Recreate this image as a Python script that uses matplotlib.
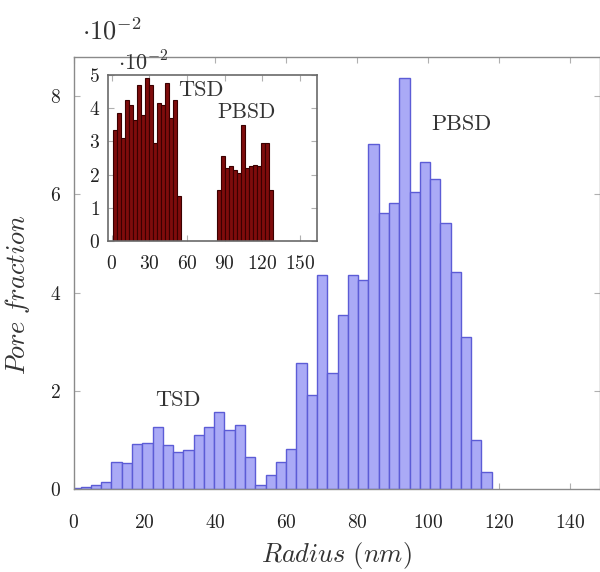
import numpy as np
import matplotlib
matplotlib.use("Agg")
import matplotlib.pyplot as plt

plt.rcParams['font.family'] = ['cmr10', 'DejaVu Serif']
plt.rcParams['mathtext.fontset'] = 'cm'
plt.rcParams['axes.formatter.use_mathtext'] = True

# ---- main histogram (values x 1e-2) ----
main_edges = np.linspace(-0.9, 118.0, 42)
main_heights = [0.02, 0.04, 0.08, 0.14, 0.54, 0.52, 0.92, 0.93, 1.26, 0.90,
                0.75, 0.79, 1.10, 1.26, 1.56, 1.20, 1.31, 0.65, 0.08, 0.29,
                0.55, 0.82, 2.57, 1.91, 4.36, 2.36, 3.54, 4.36, 4.26, 7.03,
                5.62, 5.82, 8.37, 6.06, 6.67, 6.32, 5.41, 4.42, 3.10, 0.99,
                0.34]

# ---- inset histogram (values x 1e-2) ----
inset_tsd_edges = np.linspace(0.8, 55.0, 18)
inset_tsd_heights = [3.35, 3.85, 3.10, 4.25, 4.10, 3.65, 4.70, 3.80, 4.90,
                     4.70, 2.95, 4.15, 4.10, 4.75, 3.70, 4.25, 1.35]
inset_pbsd_edges = np.linspace(83.6, 128.7, 15)
inset_pbsd_heights = [1.55, 2.55, 2.20, 2.25, 2.15, 2.05, 3.50, 2.20, 2.25,
                      2.30, 2.25, 2.95, 2.95, 1.55]

main_xticks = [0, 20, 40, 60, 80, 100, 120, 140]
main_yticks = [0, 2, 4, 6, 8]
inset_xticks = [0, 30, 60, 90, 120, 150]
inset_yticks = [0, 1, 2, 3, 4, 5]

W, H = 600, 572
fig = plt.figure(figsize=(W / 100, H / 100), dpi=100)

def frac(x0, y0, x1, y1):
    return [x0 / W, 1 - y1 / H, (x1 - x0) / W, (y1 - y0) / H]

spine_col = '#8a8a8a'
tick_col = '#b0b0b0'
txt_col = '#333333'

ax = fig.add_axes(frac(73.5, 57, 599.5, 489))
ax.bar(main_edges[:-1], main_heights, width=np.diff(main_edges), align='edge',
       color='#aaaaf6', edgecolor='#5c5cd6', linewidth=1.0, zorder=2)
ax.set_xlim(0, 148.4)
ax.set_ylim(0, 8.8)
ax.set_xticks(main_xticks)
ax.set_yticks(main_yticks)
ax.tick_params(direction='in', top=True, right=True, length=4, width=0.8,
               color=tick_col, labelsize=14, labelcolor='#222222')
ax.tick_params(axis='x', pad=18)
ax.tick_params(axis='y', pad=9)
for s in ax.spines.values():
    s.set_color(spine_col)
    s.set_linewidth(1.0)
ax.set_xlabel(r'$Radius\ (nm)$', fontsize=19, color=txt_col)
ax.set_ylabel(r'$Pore\ fraction$', fontsize=19, color=txt_col)
ax.xaxis.set_label_coords(0.5, -0.118)
ax.yaxis.set_label_coords(-0.079, 0.45)
ax.text(29.5, 1.8, 'TSD', fontsize=16, ha='center', va='center', color=txt_col)
ax.text(109.3, 7.44, 'PBSD', fontsize=16, ha='center', va='center', color=txt_col)
fig.text(112 / W, 1 - 31 / H, r'$\cdot 10^{-2}$', fontsize=19, ha='center',
         va='center', color=txt_col)

# ---- inset ----
ai = fig.add_axes(frac(108.3, 75, 316.7, 241))
ai.bar(inset_tsd_edges[:-1], inset_tsd_heights, width=np.diff(inset_tsd_edges),
       align='edge', color='#7e0c0c', edgecolor='#3a0000', linewidth=0.8, zorder=2)
ai.bar(inset_pbsd_edges[:-1], inset_pbsd_heights, width=np.diff(inset_pbsd_edges),
       align='edge', color='#7e0c0c', edgecolor='#3a0000', linewidth=0.8, zorder=2)
ai.set_xlim(-2.7, 163.2)
ai.set_ylim(0, 5)
ai.set_xticks(inset_xticks)
ai.set_yticks(inset_yticks)
ai.tick_params(direction='in', top=True, right=True, length=4, width=0.8,
               color=tick_col, labelsize=14, labelcolor='#222222')
ai.tick_params(axis='x', pad=10)
ai.tick_params(axis='y', pad=6)
for s in ai.spines.values():
    s.set_color('#6a6a6a')
    s.set_linewidth(1.2)
ai.text(71, 4.55, 'TSD', fontsize=16, ha='center', va='center', color=txt_col)
ai.text(107.7, 3.89, 'PBSD', fontsize=15.5, ha='center', va='center', color=txt_col)
fig.text(143 / W, 1 - 62 / H, r'$\cdot 10^{-2}$', fontsize=16, ha='center',
         va='center', color=txt_col)

fig.savefig('out.png', dpi=100)
